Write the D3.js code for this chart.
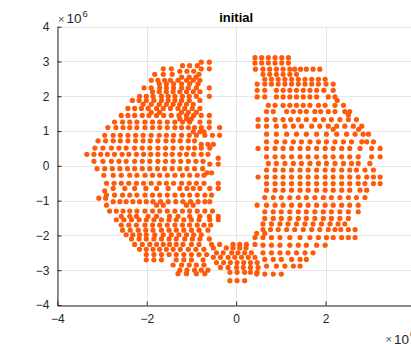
<!DOCTYPE html>
<html>
<head>
<meta charset="utf-8">
<script src="https://cdn.jsdelivr.net/npm/d3@7"></script>
<style>
  html, body { margin: 0; padding: 0; background: #fff; overflow: hidden; }
  svg { display: block; }
  text { font-family: "Liberation Sans", Arial, Helvetica, sans-serif; fill: #262626; }
</style>
</head>
<body>
<svg id="chart" width="411" height="344"></svg>
<script>
// Positions in units of 1e6. Each row: [y, [x, x, ...]]
const leftRows = [
  [2.98, [-0.78, -0.60]],
  [2.88, [-1.20, -1.04, -0.87]],
  [2.79, [-1.63, -1.45, -0.78, -0.60]],
  [2.72, [-1.26, -1.10, -0.95]],
  [2.63, [-1.82, -1.63, -1.43, -0.83]],
  [2.55, [-1.22, -1.05, -0.90]],
  [2.46, [-1.90, -1.75, -1.60, -1.47, -1.30, -1.11, -0.96, -0.81]],
  [2.36, [-1.72, -1.56, -1.40, -1.22, -1.04, -0.85]],
  [2.24, [-2.06, -1.90, -1.71, -1.56, -1.40, -1.22, -1.07, -0.89, -0.60]],
  [2.13, [-1.87, -1.72, -1.56, -1.41, -1.26, -1.11, -0.96, -0.81]],
  [2.00, [-2.16, -2.01, -1.86, -1.67, -1.52, -1.37, -1.20, -1.05, -0.89, -0.60]],
  [1.88, [-2.32, -2.17, -2.01, -1.84, -1.67, -1.52, -1.37, -1.22, -1.05, -0.81]],
  [1.77, [-2.08, -1.90, -1.72, -1.56, -1.41, -1.26, -1.11, -0.96]],
  [1.65, [-2.42, -2.27, -2.12, -1.97, -1.78, -1.63, -1.47, -1.30, -1.15, -0.98, -0.81]],
  [1.54, [-1.90, -1.71, -1.22, -1.07, -0.89]],
  [1.45, [-2.57, -2.42, -2.27, -2.10, -1.95, -1.78, -1.62, -1.45, -1.28, -1.11, -0.95, -0.78, -0.60]],
  [1.35, [-1.26, -1.11, -1.00]],
  [1.26, [-2.72, -2.54, -2.38, -2.22, -2.04, -1.87, -1.71, -1.54, -1.37, -1.20, -1.04, -0.81, -0.60]],
  [1.10, [-2.87, -2.69, -2.53, -2.38, -2.22, -2.04, -1.87, -1.71, -1.54, -1.37, -1.22, -1.07, -0.93, -0.78, -0.60, -0.37]],
  [0.98, [-0.96, -0.81, -0.72]],
  [0.88, [-2.94, -2.75, -2.59, -2.42, -2.25, -2.08, -1.90, -1.72, -1.56, -1.40, -1.22, -1.05, -0.89, -0.70, -0.53, -0.37]],
  [0.72, [-3.09, -2.92, -2.75, -2.59, -2.42, -2.25, -2.08, -1.92, -1.75, -1.57, -1.41, -1.25, -1.07, -0.93]],
  [0.62, [-0.78, -0.63, -0.51]],
  [0.51, [-3.16, -2.98, -2.79, -2.62, -2.46, -2.27, -2.10, -1.93, -1.75, -1.58, -1.41, -1.22, -1.07, -0.93, -0.78, -0.59]],
  [0.33, [-3.34, -3.18, -3.03, -2.88, -2.72, -2.55, -2.40, -2.23, -2.07, -1.91, -1.75, -1.58, -1.43, -1.26, -1.11, -0.95, -0.78, -0.63]],
  [0.22, [-0.40]],
  [0.13, [-3.18, -2.98, -2.79, -2.62, -2.46, -2.27, -2.10, -1.93, -1.75, -1.58, -1.41, -1.24, -1.07, -0.90, -0.74]],
  [0.05, [-0.59, -0.40]],
  [-0.08, [-3.11, -2.94, -2.77, -2.60, -2.43, -2.27, -2.10, -1.93, -1.76, -1.60, -1.43, -1.26, -1.10, -0.93, -0.75]],
  [-0.20, [-0.65, -0.55]],
  [-0.27, [-2.96, -2.75, -2.57, -2.38, -2.22, -2.04, -1.87, -1.71, -1.54, -1.37, -1.20, -1.04, -0.87, -0.72]],
  [-0.50, [-2.90, -2.73, -2.57, -2.40, -2.23, -2.07, -1.90, -1.72, -1.56, -1.40, -1.22, -1.05, -0.89, -0.72, -0.40]],
  [-0.65, [-2.75, -2.49, -2.27, -2.02, -1.78, -1.52, -1.26, -1.10, -0.96, -0.81, -0.59, -0.40]],
  [-0.72, [-2.94]],
  [-0.84, [-2.90, -2.72, -2.54, -2.38, -2.22, -2.04, -1.87, -1.71, -1.54, -1.37, -1.20, -1.04, -0.87, -0.70, -0.55]],
  [-0.93, [-3.07, -2.92]],
  [-1.03, [-2.75, -2.60, -2.46, -2.31, -2.16, -2.01, -1.86, -1.69, -1.52, -1.35, -1.19, -1.02, -0.85, -0.70, -0.59]],
  [-1.13, [-2.90, -1.78, -1.63, -1.11, -0.96]],
  [-1.30, [-2.83, -2.68, -2.53, -2.38, -2.22, -2.04, -1.87, -1.71, -1.54, -1.37, -1.20, -1.04, -0.87, -0.70, -0.53]],
  [-1.45, [-2.57, -2.38, -2.23, -1.97, -1.78, -1.49, -1.30, -1.04, -0.81, -0.60, -0.40]],
  [-1.55, [-2.68, -2.51, -2.34, -2.17, -2.01, -1.84, -1.67, -1.50, -1.34, -1.17, -1.00, -0.83, -0.59, -0.40]],
  [-1.70, [-2.57, -2.40, -2.23, -2.04, -1.87, -1.71, -1.54, -1.37, -1.20, -1.04, -0.87, -0.72, -0.57]],
  [-1.85, [-2.54, -2.37, -2.19, -2.02, -1.86, -1.67, -1.50, -1.34, -1.17, -1.00, -0.83, -0.63]],
  [-1.98, [-2.46, -2.31, -2.16, -2.01, -1.82, -1.63, -1.45, -1.28, -1.11, -0.95, -0.78]],
  [-2.10, [-2.34, -2.17, -2.01, -1.84, -1.67, -1.50, -1.34, -1.15, -0.98, -0.81, -0.60]],
  [-2.26, [-2.27, -2.10, -1.93, -1.78, -1.63, -1.49, -1.34, -1.19, -1.00, -0.83]],
  [-2.40, [-2.16, -2.01, -1.86, -1.71, -1.56, -1.41, -1.25, -1.07, -0.90, -0.72]],
  [-2.55, [-2.01, -1.84, -1.67, -1.50, -1.34, -1.17, -1.00, -0.83, -0.66]],
  [-2.70, [-2.01, -1.84, -1.67, -1.34, -1.17, -1.00, -0.74]],
  [-2.85, [-1.41, -1.22, -1.05, -0.89, -0.72]],
  [-3.00, [-1.26, -1.10, -0.93, -0.78, -0.63]],
  [-3.10, [-1.30, -1.11, -0.89, -0.70]]
];

const bridgeRows = [
  [-2.26, [-0.55, -0.37, -0.07, 0.08, 0.23, 0.42]],
  [-2.36, [-0.51, -0.22, -0.07, 0.08, 0.22]],
  [-2.50, [-0.44, -0.29, -0.10, 0.04, 0.19, 0.34]],
  [-2.63, [-0.51, -0.35, -0.18, -0.03, 0.12, 0.27, 0.42]],
  [-2.78, [-0.44, -0.28, -0.13, 0.02, 0.17, 0.32, 0.47]],
  [-2.92, [-0.35, -0.18, 0.01, 0.16, 0.32, 0.49]],
  [-3.06, [-0.14, 0.02, 0.19, 0.32, 0.47]],
  [-3.30, [-0.14, 0.02, 0.19]]
];

const rightRows = [
  [3.11, [0.42, 0.57, 0.72, 0.87, 1.02, 1.17]],
  [2.96, [0.42, 0.57, 0.72, 0.87, 1.02, 1.17]],
  [2.78, [0.43, 0.60, 0.75, 0.90, 1.05, 1.20, 1.31, 1.44, 1.57, 1.72, 1.87]],
  [2.63, [0.60, 0.75, 0.90, 1.05, 1.20, 1.35]],
  [2.49, [0.64, 0.79, 0.94, 1.09, 1.24, 1.39, 1.54, 1.69, 1.84, 1.99]],
  [2.35, [0.47, 0.64, 0.79, 0.94, 1.09, 1.24, 1.39, 1.54, 1.69, 1.84, 2.01, 2.17]],
  [2.17, [0.47, 0.64, 0.90, 1.05, 1.20, 1.35, 1.50, 1.65, 1.80, 1.96, 2.17]],
  [1.98, [0.47, 0.64, 0.90, 1.05, 1.20, 1.35, 1.50, 1.65, 1.80, 2.06, 2.21]],
  [1.88, [2.26]],
  [1.74, [0.72, 0.87, 1.05, 1.20, 1.35, 1.50, 1.65, 1.84, 1.99, 2.21, 2.40]],
  [1.56, [0.68, 0.83, 1.13, 1.28, 1.43, 1.57, 1.76, 1.89, 2.06, 2.21, 2.43, 2.54]],
  [1.46, [2.51]],
  [1.33, [0.49, 0.68, 0.87, 1.05, 1.22, 1.39, 1.57, 1.76, 1.95, 2.13, 2.32, 2.51, 2.69]],
  [1.14, [0.49, 0.68, 0.90, 1.09, 1.28, 1.46, 1.69, 1.87, 2.06, 2.25, 2.43, 2.62, 2.81]],
  [1.05, [2.17, 2.74]],
  [0.91, [0.68, 0.90, 1.13, 1.35, 1.57, 1.80, 2.02, 2.25, 2.47, 2.66, 2.84, 2.96]],
  [0.69, [0.68, 0.90, 1.09, 1.28, 1.46, 1.65, 1.84, 2.02, 2.21, 2.40, 2.58, 2.81, 2.92, 3.07]],
  [0.50, [0.49, 0.68, 0.87, 1.05, 1.24, 1.43, 1.61, 1.80, 1.99, 2.17, 2.36, 2.54, 2.77, 3.03, 3.22]],
  [0.26, [0.68, 0.87, 1.05, 1.24, 1.43, 1.61, 1.80, 1.99, 2.17, 2.36, 2.54, 2.73, 3.03, 3.22]],
  [0.07, [0.72, 0.90, 1.09, 1.28, 1.46, 1.65, 1.84, 2.02, 2.21, 2.40, 2.58, 2.73, 2.99]],
  [-0.12, [0.68, 0.87, 1.05, 1.24, 1.43, 1.61, 1.80, 1.99, 2.17, 2.36, 2.54, 2.69, 2.88, 3.07]],
  [-0.32, [0.49, 0.68, 0.87, 1.05, 1.24, 1.43, 1.61, 1.80, 1.99, 2.17, 2.36, 2.54, 2.73, 2.92, 3.07, 3.22]],
  [-0.51, [0.68, 0.87, 1.05, 1.24, 1.43, 1.61, 1.80, 1.99, 2.17, 2.36, 2.54, 2.73, 2.88, 3.07, 3.22]],
  [-0.70, [0.68, 0.87, 1.05, 1.24, 1.43, 1.61, 1.80, 1.99, 2.17, 2.36, 2.54, 2.77, 2.92]],
  [-0.91, [0.64, 0.83, 1.01, 1.20, 1.39, 1.57, 1.76, 1.95, 2.13, 2.32, 2.51, 2.69, 2.88]],
  [-1.13, [0.47, 0.68, 0.87, 1.05, 1.24, 1.43, 1.61, 1.80, 1.99, 2.17, 2.36, 2.54, 2.73]],
  [-1.32, [0.64, 0.83, 1.01, 1.20, 1.39, 1.57, 1.76, 1.95, 2.13, 2.32, 2.51, 2.73]],
  [-1.51, [0.64, 0.83, 1.01, 1.20, 1.39, 1.57, 1.76, 1.95, 2.13, 2.32, 2.51]],
  [-1.67, [0.60, 0.79, 0.98, 1.16, 1.35, 1.54, 1.72, 1.91, 2.10, 2.28, 2.43]],
  [-1.83, [0.60, 0.77, 0.94, 1.13, 1.31, 1.50, 1.69, 1.87, 2.06, 2.21, 2.34, 2.51, 2.66]],
  [-1.94, [0.46, 0.64]],
  [-2.06, [0.42, 0.60, 0.79, 0.98, 1.20, 1.43, 1.65, 1.84, 2.02, 2.17, 2.36, 2.51, 2.66]],
  [-2.28, [0.60, 0.79, 0.98, 1.20, 1.39, 1.57, 1.80, 1.99]],
  [-2.50, [0.60, 0.79, 0.98, 1.16, 1.35, 1.54, 1.72]],
  [-2.69, [0.64, 0.83, 1.01, 1.24, 1.43, 1.57]],
  [-2.88, [0.68, 0.90, 1.09, 1.28, 1.43]],
  [-3.11, [0.46, 0.64, 0.83, 1.01]]
];

// x = 4 sits just past the right edge of the canvas, so only its grid position is kept
const xGridTicks = [-4, -2, 0, 2, 4];
const xTickLabels = [-4, -2, 0, 2];
const yTicks = [-4, -3, -2, -1, 0, 1, 2, 3, 4];
const titleText = "initial";
const exponentTimes = "\u00d7";
const exponentBase = "10";
const exponentPower = "6";

const points = [];
[leftRows, bridgeRows, rightRows].forEach(rows =>
  rows.forEach(([py, xs]) => xs.forEach(px => points.push({ x: px, y: py })))
);

const svg = d3.select("#chart");
const plotLeft = 57.3, plotRight = 415, plotTop = 26.7, plotBottom = 305;

const x = d3.scaleLinear().domain([-4, 4]).range([plotLeft, plotRight]);
const y = d3.scaleLinear().domain([-4, 4]).range([plotBottom, plotTop]);

// grid
const grid = svg.append("g").attr("stroke", "#e6e6e6").attr("stroke-width", 1);
grid.selectAll("line.gx").data(xGridTicks).join("line")
  .attr("x1", d => Math.round(x(d)) + 0.5).attr("x2", d => Math.round(x(d)) + 0.5)
  .attr("y1", plotTop).attr("y2", plotBottom);
grid.selectAll("line.gy").data(yTicks).join("line")
  .attr("y1", d => Math.round(y(d)) + 0.5).attr("y2", d => Math.round(y(d)) + 0.5)
  .attr("x1", plotLeft).attr("x2", plotRight);

// points
svg.append("g").selectAll("circle").data(points).join("circle")
  .attr("cx", d => x(d.x))
  .attr("cy", d => y(d.y))
  .attr("r", 2.6)
  .attr("fill", "#ff5a0a");

// axes (ticks point inward)
const xAxis = d3.axisBottom(x).tickValues(xTickLabels).tickSizeInner(-4).tickSizeOuter(0).tickPadding(9);
const yAxis = d3.axisLeft(y).tickValues(yTicks).tickSizeInner(-4).tickSizeOuter(0).tickPadding(8);

const gx = svg.append("g").attr("transform", `translate(0,${Math.round(plotBottom) + 0.5})`).call(xAxis);
const gy = svg.append("g").attr("transform", `translate(${Math.round(plotLeft) + 0.5},0)`).call(yAxis);

[gx, gy].forEach(g => {
  g.select(".domain").attr("stroke", "#262626");
  g.selectAll(".tick line").attr("stroke", "#262626");
  g.selectAll(".tick text")
    .attr("fill", "#262626")
    .style("font-family", "'Liberation Sans', Arial, Helvetica, sans-serif")
    .style("font-size", "12px");
});

// title
svg.append("text")
  .attr("x", (plotLeft + plotRight) / 2)
  .attr("y", 21.5)
  .attr("text-anchor", "middle")
  .style("font-size", "13px")
  .style("font-weight", "bold")
  .style("fill", "#000")
  .text(titleText);

// exponent labels
function exponentLabel(px, py) {
  const g = svg.append("g").attr("transform", `translate(${px},${py})`);
  g.append("text").attr("x", 0).attr("y", -0.5).style("font-size", "11px").style("fill", "#555").text(exponentTimes);
  g.append("text").attr("x", 8.6).attr("y", 0).style("font-size", "13.5px").text(exponentBase);
  g.append("text").attr("x", 24.6).attr("y", -6.8).style("font-size", "9.5px").text(exponentPower);
}
exponentLabel(58, 23.4);
exponentLabel(385.5, 343.5);
</script>
</body>
</html>
